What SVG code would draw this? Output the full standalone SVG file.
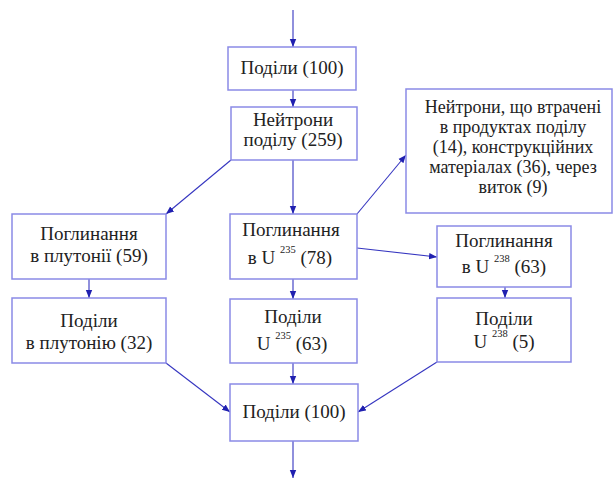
<svg xmlns="http://www.w3.org/2000/svg" width="613" height="479" viewBox="0 0 613 479">
<defs>
<marker id="ah" viewBox="0 0 10 10" refX="10" refY="5" markerWidth="8" markerHeight="8" markerUnits="userSpaceOnUse" orient="auto">
<path d="M0,1 L10,5 L0,9 Z" fill="#2020b0"/>
</marker>
</defs>
<style>
.box{fill:#fff;stroke:#8a8ae6;stroke-width:1.5}
.t{font-family:"Liberation Serif","Times New Roman",serif;font-size:19px;fill:#222;text-anchor:middle}
.s{font-size:18px}
.sup{font-size:10.5px}
.c{stroke:#3535c0;stroke-width:1.1;fill:none;marker-end:url(#ah)}
</style>
<rect width="613" height="479" fill="#fff"/>
<g id="connectors">
<line class="c" x1="293" y1="10" x2="293" y2="47"/>
<line class="c" x1="293" y1="90" x2="293" y2="107"/>
<line class="c" x1="293" y1="160" x2="293" y2="214"/>
<line class="c" x1="231" y1="160" x2="166" y2="214"/>
<line class="c" x1="89" y1="279" x2="89" y2="298"/>
<line class="c" x1="293" y1="279" x2="293" y2="299"/>
<line class="c" x1="357" y1="214" x2="406" y2="155"/>
<line class="c" x1="357" y1="248" x2="437" y2="257"/>
<line class="c" x1="505" y1="287" x2="505" y2="298"/>
<line class="c" x1="293" y1="363" x2="293" y2="384"/>
<line class="c" x1="166" y1="363" x2="230" y2="412"/>
<line class="c" x1="437" y1="362" x2="358" y2="412"/>
<line class="c" x1="293" y1="441" x2="293" y2="478"/>
</g>
<g id="n1"><rect class="box" x="228" y="47" width="128" height="43"/><text class="t" x="292" y="74">Поділи (100)</text></g>
<g id="n2"><rect class="box" x="231" y="107" width="126" height="53"/><text class="t" x="293" y="126">Нейтрони</text><text class="t" x="293" y="146">поділу (259)</text></g>
<g id="n3"><rect class="box" x="12" y="214" width="154" height="65"/><text class="t" x="89" y="240">Поглинання</text><text class="t" x="89" y="262">в плутонії (59)</text></g>
<g id="n4"><rect class="box" x="12" y="298" width="154" height="65"/><text class="t" x="89" y="327">Поділи</text><text class="t" x="89" y="349">в плутонію (32)</text></g>
<g id="n5"><rect class="box" x="230" y="214" width="127" height="65"/><text class="t" x="291" y="236">Поглинання</text><text class="t" x="290" y="264">в U <tspan class="sup" dy="-11">235</tspan><tspan dy="11"> (78)</tspan></text></g>
<g id="n6"><rect class="box" x="230" y="299" width="127" height="64"/><text class="t" x="293" y="323">Поділи</text><text class="t" x="292" y="350">U <tspan class="sup" dy="-11">235</tspan><tspan dy="11"> (63)</tspan></text></g>
<g id="n7"><rect class="box" x="406" y="89" width="206" height="124"/>
<text class="t s" x="513" y="113">Нейтрони, що втрачені</text>
<text class="t s" x="513" y="133">в продуктах поділу</text>
<text class="t s" x="513" y="153">(14), конструкційних</text>
<text class="t s" x="513" y="173">матеріалах (36), через</text>
<text class="t s" x="513" y="193">виток (9)</text></g>
<g id="n8"><rect class="box" x="437" y="226" width="134" height="61"/><text class="t" x="504" y="247">Поглинання</text><text class="t" x="504" y="273">в U <tspan class="sup" dy="-11">238</tspan><tspan dy="11"> (63)</tspan></text></g>
<g id="n9"><rect class="box" x="437" y="298" width="134" height="64"/><text class="t" x="504" y="325">Поділи</text><text class="t" x="504" y="348">U <tspan class="sup" dy="-11">238</tspan><tspan dy="11"> (5)</tspan></text></g>
<g id="n10"><rect class="box" x="230" y="384" width="128" height="57"/><text class="t" x="294" y="418">Поділи (100)</text></g>
</svg>
